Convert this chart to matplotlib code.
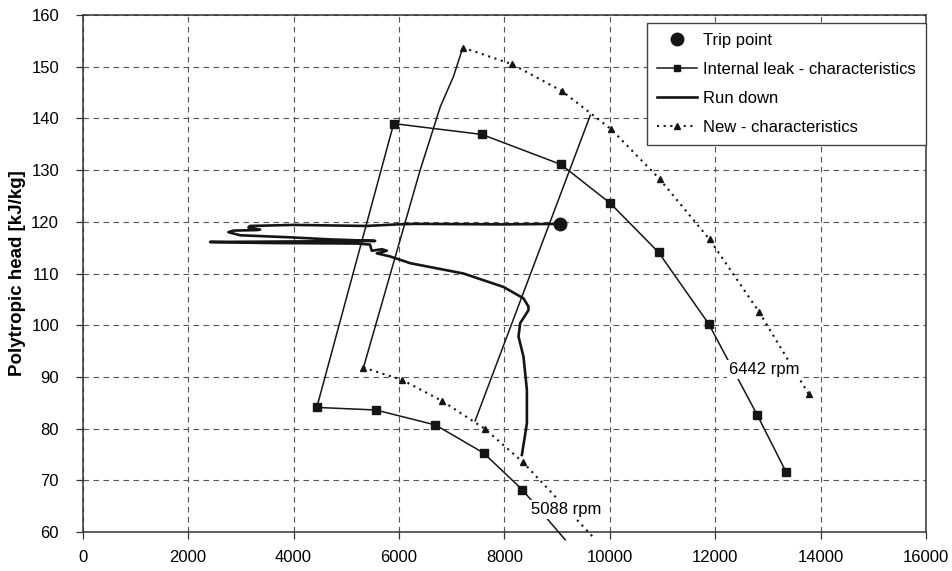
import matplotlib
matplotlib.use('Agg')
import matplotlib.pyplot as plt

plt.rcParams['font.family'] = ['Liberation Sans', 'DejaVu Sans']
plt.rcParams['font.size'] = 12

# trip point
trip_x = [9060]
trip_y = [119.6]

# internal leak - characteristics (last 5088 point lies just below the axis)
leak_5088_x = [4441, 5561, 6693, 7604, 8338, 9154]
leak_5088_y = [84.1, 83.6, 80.7, 75.3, 68.2, 58.5]
leak_6442_x = [5900, 7573, 9072, 10008, 10925, 11874, 12794, 13345]
leak_6442_y = [139.0, 136.9, 131.1, 123.6, 114.1, 100.3, 82.7, 71.6]
leak_surge_x = [4441, 5900]
leak_surge_y = [84.1, 139.0]

# new - characteristics
new_5088_x = [5326, 6066, 6826, 7623, 8344, 9685]
new_5088_y = [91.8, 89.4, 85.3, 80.0, 73.6, 59.0]
new_6442_x = [7212, 8142, 9091, 10027, 10944, 11893, 12837, 13772]
new_6442_y = [153.7, 150.5, 145.3, 137.9, 128.3, 116.6, 102.5, 86.7]
new_surge_x = [5326, 6402, 6786, 7034, 7212]
new_surge_y = [91.8, 130.0, 142.3, 148.1, 153.7]

# other straight line
op_x = [7445, 9630]
op_y = [81.5, 140.6]

# run down
run_x = [9060, 8000, 6300, 5960, 5390, 3997, 3175, 3143, 3365, 3302, 2858, 2764,
         2985, 3935, 4694, 5548, 4000, 2416, 3500, 5200, 5450, 5485, 5675, 5770,
         5580, 5833, 6212, 7224, 7983, 8362, 8457, 8457, 8300, 8268, 8363, 8427,
         8427, 8332]
run_y = [119.6, 119.5, 119.6, 119.5, 119.2, 119.4, 119.2, 118.9, 118.5, 118.4,
         118.3, 118.0, 117.4, 117.0, 116.6, 116.3, 116.2, 116.1, 115.9, 115.8,
         115.6, 114.4, 114.7, 114.4, 113.9, 113.3, 112.0, 110.0, 107.4, 105.2,
         103.6, 102.9, 100.4, 97.8, 93.9, 87.5, 81.0, 74.9]

x_ticks = list(range(0, 16001, 2000))
y_ticks = list(range(60, 161, 10))

fig = plt.figure(figsize=(9.53, 5.71), dpi=100)
ax = fig.add_axes([0.0868, 0.0683, 0.8849, 0.9054])

ink = '#151515'
thin = dict(color=ink, lw=1.1, clip_on=False)

ax.plot(leak_5088_x, leak_5088_y, marker='s', ms=5.5,
        markevery=list(range(len(leak_5088_x) - 1)), **thin, zorder=3)
ax.plot(leak_6442_x, leak_6442_y, marker='s', ms=5.5, **thin, zorder=3)
ax.plot(leak_surge_x, leak_surge_y, **thin, zorder=3)
ax.plot(new_surge_x, new_surge_y, **thin, zorder=3)
ax.plot(op_x, op_y, **thin, zorder=3)

dot = dict(color=ink, lw=1.5, ls=(0, (1, 2.2)), marker='^', ms=5, clip_on=False)
ax.plot(new_5088_x, new_5088_y, markevery=list(range(len(new_5088_x) - 1)),
        **dot, zorder=3)
ax.plot(new_6442_x, new_6442_y, **dot, zorder=3)

ax.plot(run_x, run_y, color=ink, lw=1.9, zorder=4, solid_joinstyle='round')
ax.plot(trip_x, trip_y, 'o', color=ink, ms=9, zorder=5)

box = dict(facecolor='white', edgecolor='none', pad=1.5)
ax.text(9173, 64.3, '5088 rpm', ha='center', va='center', bbox=box, zorder=6)
ax.text(12930, 91.5, '6442 rpm', ha='center', va='center', bbox=box, zorder=6)

ax.set_xlim(0, 16000)
ax.set_ylim(60, 160)
ax.set_xticks(x_ticks)
ax.set_yticks(y_ticks)
ax.grid(True, color='#555555', ls=(0, (5, 4)), lw=0.8)
ax.tick_params(axis='both', direction='out', length=5, width=0.9, colors='#333333',
               labelcolor='black', labelsize=12)
ax.tick_params(axis='x', pad=8)
ax.tick_params(axis='y', pad=12)
for s in ax.spines.values():
    s.set_color('#333333')
    s.set_linewidth(1.1)

ax.set_ylabel('Polytropic head [kJ/kg]', fontsize=13.5, fontweight='bold', labelpad=4)

# legend
h_trip, = ax.plot([], [], 'o', color=ink, ms=9)
h_leak, = ax.plot([], [], color=ink, lw=1.1, marker='s', ms=5)
h_run, = ax.plot([], [], color=ink, lw=1.9)
h_new, = ax.plot([], [], color=ink, lw=1.5, ls=(0, (1, 2.2)), marker='^', ms=5)
leg = ax.legend([h_trip, h_leak, h_run, h_new],
                ['Trip point', 'Internal leak - characteristics', 'Run down',
                 'New - characteristics'],
                loc='upper right', bbox_to_anchor=(1.0, 0.985), borderaxespad=0,
                numpoints=1, handlelength=2.4, handletextpad=0.4,
                labelspacing=0.85, borderpad=0.6, fancybox=False, framealpha=1,
                fontsize=12)
leg.get_frame().set_edgecolor('#444444')
leg.get_frame().set_linewidth(1.0)
leg.set_zorder(10)

fig.savefig('out.png', dpi=100)
